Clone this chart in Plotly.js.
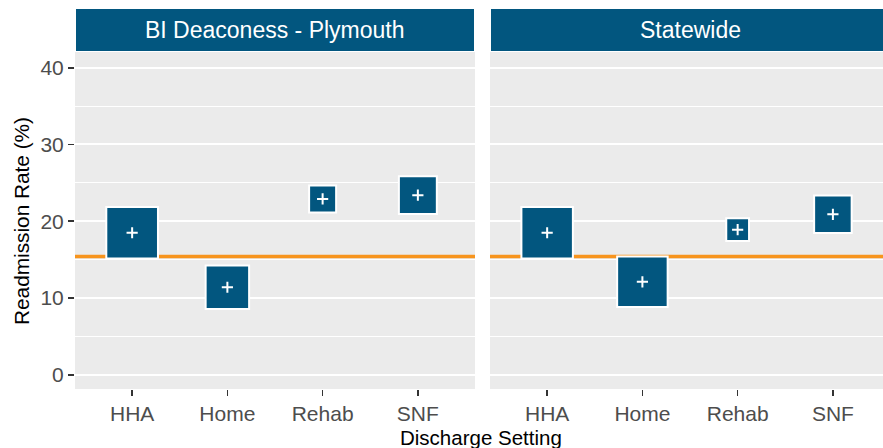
<!DOCTYPE html>
<html>
<head>
<meta charset="utf-8">
<script src="https://cdn.plot.ly/plotly-3.0.1.min.js"></script>
<style>html,body{margin:0;padding:0;background:#fff;}#chart{width:883px;height:448px;}</style>
</head>
<body>
<div id="chart"></div>
<script>
// ---- data ----
const categories = ['HHA', 'Home', 'Rehab', 'SNF'];
const panelNames = ['BI Deaconess - Plymouth', 'Statewide'];
const plymouthRate = [18.5, 11.4, 22.9, 23.4];
const statewideRate = [18.5, 12.1, 18.9, 20.9];
// relative discharge share (mapped to square area)
const plymouthShare = [26.7, 18.9, 7.3, 14.4];
const statewideShare = [26.5, 25.5, 5.2, 14.1];
const benchmarkRate = [15.4, 15.4];
const yTicks = [0, 10, 20, 30, 40];

// ---- styles ----
const BLUE = '#02567F';
const ORANGE = '#F7941D';
const FONT = 'Liberation Sans, Arial, Helvetica, sans-serif';

function squares(rates, share, xa, ya) {
  return {
    type: 'scatter', mode: 'markers', x: categories, y: rates, xaxis: xa, yaxis: ya,
    marker: { symbol: 'square', color: BLUE, opacity: 1, size: share, sizemode: 'area', sizeref: 0.02,
              line: { color: '#FFFFFF', width: 2 } },
    hoverinfo: 'skip', showlegend: false, cliponaxis: false
  };
}
function pluses(rates, xa, ya) {
  return {
    type: 'scatter', mode: 'markers', x: categories, y: rates, xaxis: xa, yaxis: ya,
    marker: { symbol: 'cross-thin', size: 8, opacity: 1, color: '#FFFFFF', line: { color: '#FFFFFF', width: 2 } },
    hoverinfo: 'skip', showlegend: false, cliponaxis: false
  };
}

const data = [
  squares(plymouthRate, plymouthShare, 'x', 'y'),
  pluses(plymouthRate, 'x', 'y'),
  squares(statewideRate, statewideShare, 'x2', 'y2'),
  pluses(statewideRate, 'x2', 'y2')
];

const W = 883, H = 448, L = 75, R = 0, T = 52, B = 59;
const pw = W - L - R, ph = H - T - B;
const px = v => (v - L) / pw;        // pixel x -> paper
const py = v => (H - B - v) / ph;    // pixel y -> paper

const yRange = [-1.86, 42.05];

const commonX = {
  type: 'category', categoryarray: categories, categoryorder: 'array',
  showgrid: false, zeroline: false, showline: false,
  ticks: 'outside', ticklen: 6, tickwidth: 1.6, tickcolor: '#333333',
  tickfont: { family: FONT, size: 21, color: '#4D4D4D' }, fixedrange: true
};
const commonY = {
  range: yRange, tickvals: yTicks, showgrid: true, gridcolor: '#FFFFFF', gridwidth: 2,
  minor: { tickvals: [5, 15, 25, 35], showgrid: true, gridcolor: '#FFFFFF', gridwidth: 1, ticks: '' },
  zeroline: false, showline: false, fixedrange: true
};

const layout = {
  width: W, height: H,
  margin: { l: L, r: R, t: T, b: B, pad: 0 },
  paper_bgcolor: '#FFFFFF', plot_bgcolor: '#EBEBEB',
  font: { family: FONT },
  showlegend: false,
  xaxis: Object.assign({}, commonX, { domain: [0, px(475)], range: [-0.6, 3.6], anchor: 'y' }),
  xaxis2: Object.assign({}, commonX, { domain: [px(490), 1], range: [-0.6, 3.526], anchor: 'y2' }),
  yaxis: Object.assign({}, commonY, { anchor: 'x', ticks: 'outside', ticklen: 6, tickwidth: 1.6, tickcolor: '#333333',
          tickfont: { family: FONT, size: 21, color: '#4D4D4D' } }),
  yaxis2: Object.assign({}, commonY, { anchor: 'x2', matches: 'y', showticklabels: false, ticks: '' }),
  shapes: [
    { type: 'line', xref: 'x', yref: 'y', x0: -0.6, x1: 3.6, y0: benchmarkRate[0], y1: benchmarkRate[0],
      line: { color: ORANGE, width: 3.5 }, layer: 'below' },
    { type: 'line', xref: 'x2', yref: 'y2', x0: -0.6, x1: 3.526, y0: benchmarkRate[1], y1: benchmarkRate[1],
      line: { color: ORANGE, width: 3.5 }, layer: 'below' },
    { type: 'rect', xref: 'paper', yref: 'paper', x0: px(76), x1: px(474), y0: py(51), y1: py(9),
      fillcolor: BLUE, line: { width: 0 }, layer: 'above' },
    { type: 'rect', xref: 'paper', yref: 'paper', x0: px(491), x1: 1, y0: py(51), y1: py(9),
      fillcolor: BLUE, line: { width: 0 }, layer: 'above' }
  ],
  annotations: [
    { text: panelNames[0], xref: 'paper', yref: 'paper', x: px(275), y: py(30), xanchor: 'center', yanchor: 'middle',
      showarrow: false, font: { family: FONT, size: 23, color: '#FFFFFF' } },
    { text: panelNames[1], xref: 'paper', yref: 'paper', x: px(690), y: py(30), xanchor: 'center', yanchor: 'middle',
      showarrow: false, font: { family: FONT, size: 23, color: '#FFFFFF' } },
    { text: 'Discharge Setting', xref: 'paper', yref: 'paper', x: px(481), y: py(437), xanchor: 'center', yanchor: 'middle',
      showarrow: false, font: { family: FONT, size: 20.5, color: '#000000' } },
    { text: 'Readmission Rate (%)', xref: 'paper', yref: 'paper', x: px(21), y: py(221), xanchor: 'center', yanchor: 'middle',
      textangle: -90, showarrow: false, font: { family: FONT, size: 20.8, color: '#000000' } }
  ]
};

Plotly.newPlot('chart', data, layout, { staticPlot: true, displayModeBar: false });
</script>
</body>
</html>
